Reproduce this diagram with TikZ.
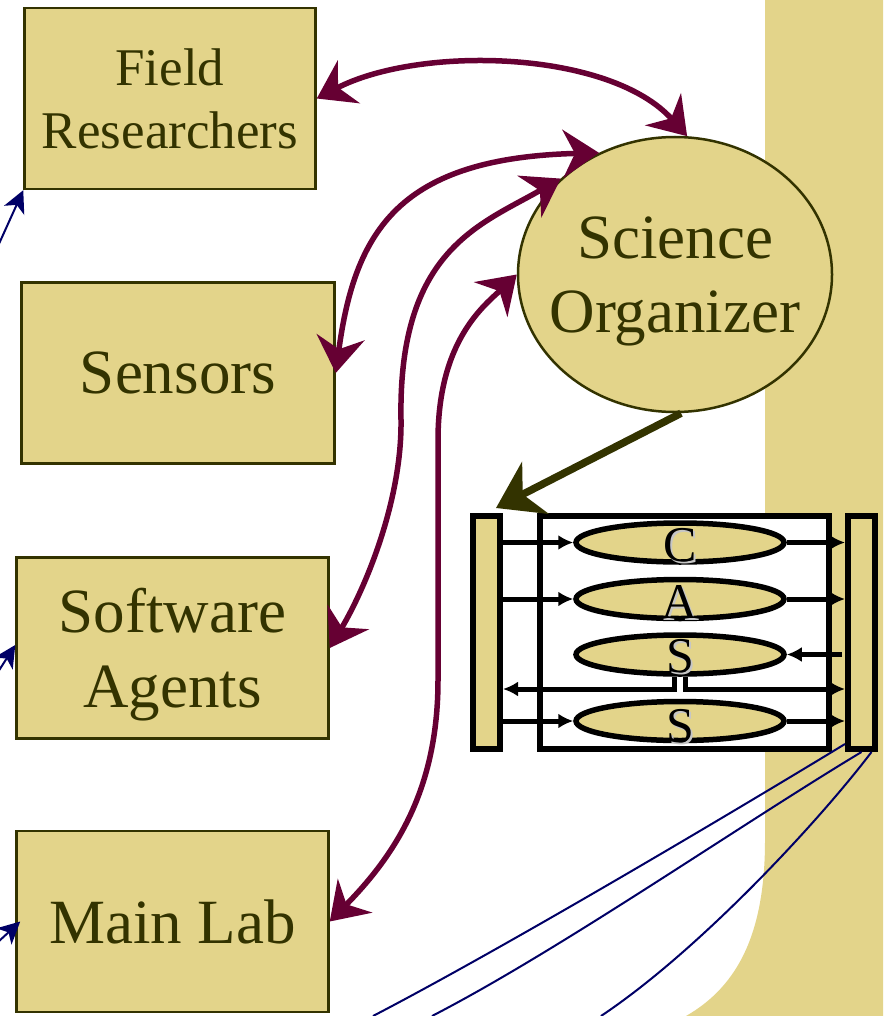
\documentclass[tikz,border=0pt]{standalone}
\usepackage{fontspec}
\setmainfont{Liberation Serif}
\usetikzlibrary{arrows.meta,positioning,shapes.geometric}

\definecolor{tanfill}{RGB}{227,212,138}
\definecolor{olivedark}{RGB}{51,51,0}
\definecolor{plum}{RGB}{102,0,51}
\definecolor{navyblue}{RGB}{0,0,102}

% letter with a light grey shadow
\newcommand{\castext}[1]{\makebox[0pt][l]{\hspace{2pt}\raisebox{-2pt}{\textcolor{gray!45}{#1}}}#1}

\tikzset{
  bigtip/.tip={Stealth[length=36pt,width=48pt,inset=12pt]},
  box/.style={draw=olivedark, line width=2.5pt, fill=tanfill, text=olivedark,
    align=center, inner sep=0pt, font=\fontsize{63}{75}\selectfont},
  organizer/.style={ellipse, draw=olivedark, line width=2.5pt, fill=tanfill,
    text=olivedark, align=center, inner sep=0pt, minimum width=314pt,
    minimum height=275pt, font=\fontsize{63}{74}\selectfont},
  link/.style={plum, line width=5.5pt, bigtip-bigtip},
  feed/.style={navyblue, line width=2pt},
  feedarrow/.style={feed, -{Stealth[length=22pt,width=22pt,inset=6pt]}},
  bar/.style={draw=black, line width=6pt, fill=tanfill, inner sep=0pt,
    minimum width=27pt, minimum height=233pt},
  stage/.style={ellipse, draw=black, line width=5.5pt, fill=tanfill, inner sep=0pt,
    minimum width=208pt, minimum height=39pt},
  letter/.style={font=\fontsize{50}{50}\selectfont, inner sep=0pt},
  flow/.style={black, line width=5pt, -{Latex[length=15pt,width=15pt]}},
}

\begin{document}
\begin{tikzpicture}[x=1pt,y=-1pt]
  \useasboundingbox (0,0) rectangle (883,1016);
  \clip (0,0) rectangle (883,1016);

  % ===== backdrop =====
  \fill[tanfill] (765,0) -- (883,0) -- (883,1016) -- (686,1016)
    .. controls (740,985) and (765,930) .. (765,840) -- cycle;

  % ===== sources =====
  \node[box, minimum width=291pt, minimum height=181pt,
    font=\fontsize{53}{63}\selectfont] (field) at (170,98.5) {Field\\Researchers};
  \node[box, minimum width=313pt, minimum height=181pt] (sens) at (178,373) {Sensors};
  \node[box, minimum width=312pt, minimum height=181pt, text depth=0pt]
    (soft) at (172.5,648) {Software\\Agents};
  \node[box, minimum width=312pt, minimum height=181pt] (lab) at (172.5,921.5) {Main Lab};

  \node[organizer, text depth=-4pt] (so) at (675,274.5)
    {\makebox[0pt]{Science}\\\makebox[0pt]{Organizer}};

  % ===== CASS block =====
  \node[draw=black, line width=6pt, fill=white, inner sep=0pt,
    minimum width=289pt, minimum height=233pt] (core) at (684.5,632.5) {};
  \node[bar] (lbar) at (486.5,632.5) {};
  \node[bar] (rbar) at (861.5,632.5) {};
  \node[stage] (c)  at (680,542.5) {};
  \node[stage] (a)  at (680,599) {};
  \node[stage] (s1) at (680,654.5) {};
  \node[stage] (s2) at (680,721) {};
  \node[letter] (cl)  at ([yshift=-4pt]c.center)  {\castext{C}};
  \node[letter] (al)  at ([yshift=-4pt]a.center)  {\castext{A}};
  \node[letter] (s1l) at ([yshift=-3pt]s1.center) {\castext{S}};
  \node[letter] (s2l) at ([yshift=-6pt]s2.center) {\castext{S}};

  % inner flows
  \draw[flow] (lbar.east |- c.west) -- (c.west);
  \draw[flow] (lbar.east |- a.west) -- (a.west);
  \draw[flow] (lbar.east |- s2.west) -- (s2.west);
  \draw[flow] (c.east) -- (c.east -| rbar.west);
  \draw[flow] (a.east) -- (a.east -| rbar.west);
  \draw[flow] (s2.east) -- (s2.east -| rbar.west);
  \draw[flow] ([xshift=-3pt]s1.east -| rbar.west) -- (s1.east);
  \coordinate (bus) at (678,689);
  \draw[flow] ([xshift=-6pt]s1.south) |- (bus -| lbar.east);
  \draw[flow] ([xshift=5pt]s1.south) |- (bus -| rbar.west);

  % organizer -> CASS
  \draw[olivedark, line width=7.5pt, -{Stealth[length=44pt,width=58pt,inset=14pt]}]
    ([xshift=6pt]so.south) -- ([xshift=-7pt,yshift=5pt]lbar.north east);

  % ===== links to organizer =====
  \draw[link] (field.east) .. controls (420,45) and (610,50) .. (so.85);
  \draw[link] (sens.east) .. controls (355,230) and (400,158) .. (so.122);
  \draw[link] (soft.east) .. controls (366,587) and (402,500) .. (401,420)
    .. controls (398,250) and (480,225) .. (so.140);
  \draw[link] (lab.east) .. controls (395,855) and (438,790) .. (438,680)
    -- (438,440) .. controls (438,340) and (485,305) .. (so.west);

  % ===== navy feeds =====
  \coordinate (w1) at (-2,246);
  \coordinate (w2) at (-2,672);
  \coordinate (w3) at (-2,942);
  \draw[feedarrow] (w1) -- (field.south west);
  \draw[feedarrow] (w2) -- ([yshift=3pt]soft.west);
  \draw[feedarrow] (w3) -- ([xshift=5pt]lab.west);

  \coordinate (n1) at (373,1016);
  \coordinate (n2) at (432,1016);
  \coordinate (n3) at (601,1016);
  \draw[feed] ([yshift=8pt]rbar.south west) .. controls (720,820) and (500,950) .. (n1);
  \draw[feed] (rbar.south) .. controls (740,825) and (560,950) .. (n2);
  \draw[feed] ([xshift=10pt]rbar.south) .. controls (820,820) and (700,950) .. (n3);
\end{tikzpicture}
\end{document}
